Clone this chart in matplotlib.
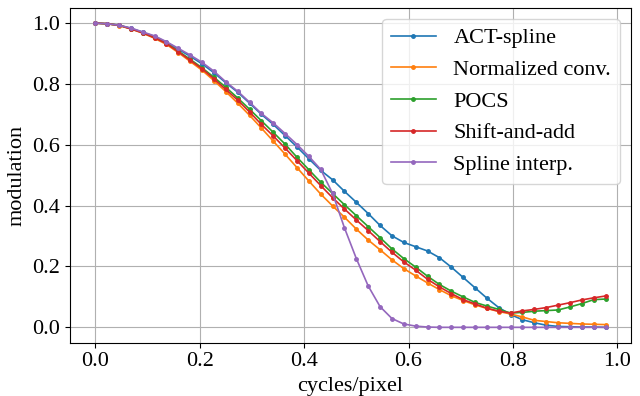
import numpy as np
import matplotlib
matplotlib.use("Agg")
import matplotlib.pyplot as plt

plt.rcParams['font.family'] = ['Liberation Serif', 'DejaVu Serif']
plt.rcParams['mathtext.fontset'] = 'stix'

# sampled frequencies (cycles/pixel), k/44 for k = 0..43
freq = np.arange(44) / 44

act_spline = [1.000, 0.998, 0.993, 0.983, 0.970, 0.956, 0.937, 0.914, 0.891, 0.866,
              0.837, 0.804, 0.773, 0.737, 0.700, 0.667, 0.630, 0.593, 0.554, 0.516,
              0.485, 0.447, 0.411, 0.374, 0.335, 0.301, 0.279, 0.265, 0.251, 0.229,
              0.198, 0.164, 0.130, 0.096, 0.065, 0.042, 0.025, 0.015, 0.007, 0.003,
              0.002, 0.001, 0.001, 0.000]
norm_conv = [1.000, 0.998, 0.992, 0.981, 0.967, 0.950, 0.930, 0.903, 0.874, 0.845,
             0.811, 0.775, 0.737, 0.697, 0.655, 0.612, 0.569, 0.525, 0.481, 0.438,
             0.399, 0.362, 0.323, 0.287, 0.255, 0.222, 0.193, 0.169, 0.146, 0.124,
             0.104, 0.088, 0.074, 0.062, 0.052, 0.044, 0.034, 0.023, 0.019, 0.015,
             0.013, 0.011, 0.010, 0.009]
pocs = [1.000, 0.998, 0.993, 0.982, 0.969, 0.953, 0.934, 0.908, 0.881, 0.853,
        0.822, 0.789, 0.754, 0.717, 0.679, 0.641, 0.602, 0.559, 0.518, 0.477,
        0.440, 0.403, 0.367, 0.331, 0.295, 0.258, 0.226, 0.198, 0.168, 0.141,
        0.119, 0.100, 0.082, 0.070, 0.059, 0.047, 0.049, 0.053, 0.055, 0.057,
        0.067, 0.078, 0.091, 0.093]
shift_add = [1.000, 0.998, 0.993, 0.981, 0.968, 0.952, 0.933, 0.906, 0.878, 0.850,
             0.817, 0.782, 0.747, 0.708, 0.667, 0.629, 0.589, 0.548, 0.507, 0.466,
             0.426, 0.389, 0.353, 0.318, 0.282, 0.247, 0.215, 0.188, 0.158, 0.133,
             0.111, 0.091, 0.077, 0.063, 0.053, 0.047, 0.054, 0.059, 0.065, 0.073,
             0.081, 0.090, 0.097, 0.103]
spline_interp = [1.000, 0.998, 0.993, 0.984, 0.971, 0.958, 0.939, 0.917, 0.895, 0.871,
                 0.842, 0.807, 0.776, 0.740, 0.703, 0.672, 0.637, 0.601, 0.562, 0.519,
                 0.440, 0.327, 0.226, 0.136, 0.068, 0.029, 0.011, 0.004, 0.001, 0.000,
                 0.000, 0.000, 0.000, 0.000, 0.000, 0.000, 0.000, 0.000, 0.000, 0.000,
                 0.000, 0.000, 0.000, 0.000]

series = {
    "ACT-spline": act_spline,
    "Normalized conv.": norm_conv,
    "POCS": pocs,
    "Shift-and-add": shift_add,
    "Spline interp.": spline_interp,
}

fig, ax = plt.subplots(figsize=(6.4, 3.96), dpi=100)
for name, vals in series.items():
    ax.plot(freq, vals, marker='.', markersize=5, linewidth=1.2, label=name)

ax.set_xlabel("cycles/pixel", fontsize=16)
ax.set_ylabel("modulation", fontsize=16)
ax.tick_params(labelsize=16)
ax.grid(True)
ax.legend(fontsize=16, loc='upper right')
fig.subplots_adjust(left=0.109, right=0.986, top=0.980, bottom=0.135)
fig.savefig("out.png")
